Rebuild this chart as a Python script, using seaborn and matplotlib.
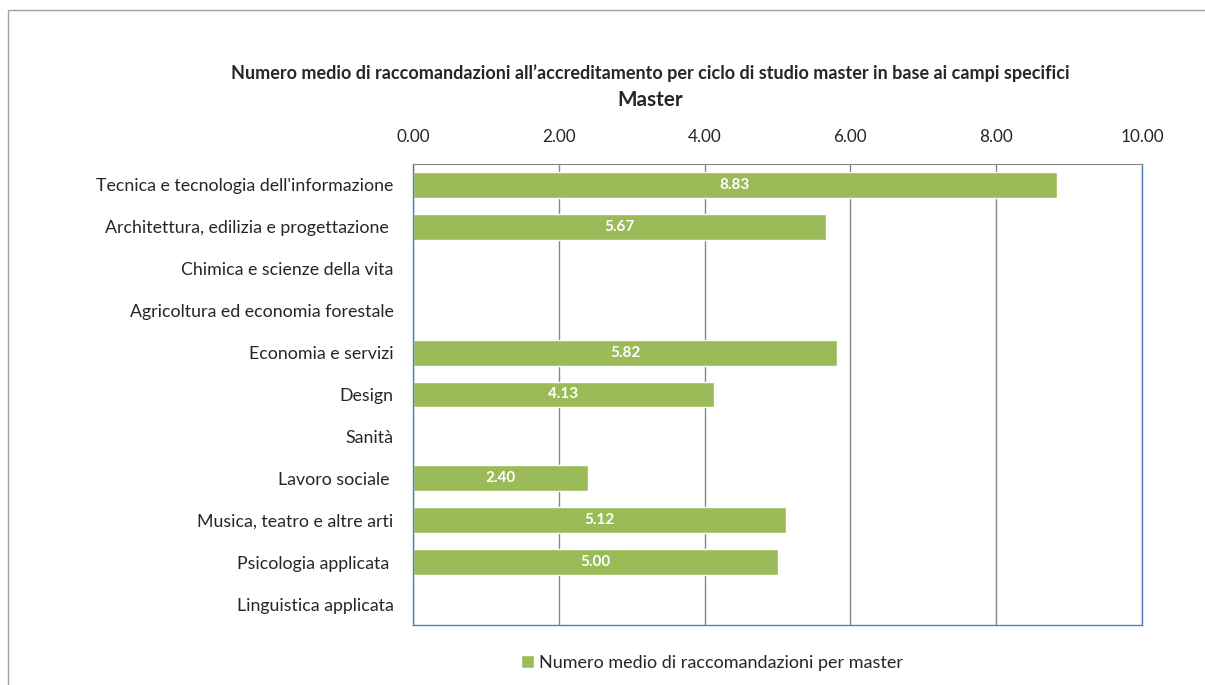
import numpy as np
import pandas as pd
import matplotlib
matplotlib.use("Agg")
import matplotlib.pyplot as plt
import seaborn as sns
from matplotlib.patches import Rectangle

# data (empty categories have no bar)
campi = ["Tecnica e tecnologia dell'informazione",
         "Architettura, edilizia e progettazione ",
         "Chimica e scienze della vita",
         "Agricoltura ed economia forestale",
         "Economia e servizi",
         "Design",
         "Sanità",
         "Lavoro sociale ",
         "Musica, teatro e altre arti",
         "Psicologia applicata ",
         "Linguistica applicata"]
valori = [8.83, 5.67, np.nan, np.nan, 5.82, 4.13, np.nan, 2.40, 5.12, 5.00, np.nan]
serie = "Numero medio di raccomandazioni per master"
xticks = [0, 2, 4, 6, 8, 10]

df = pd.DataFrame({"campo": campi, "valore": valori})

sns.set_style("white")
plt.rcParams['font.family'] = ['Lato', 'DejaVu Sans']

fig = plt.figure(figsize=(12.05, 6.85), dpi=100)
ax = fig.add_axes([413/1205, 1-625/685, (1142-413)/1205, (625-164)/685])

verde = "#9BBB59"
sns.barplot(data=df, x="valore", y="campo", color=verde, width=0.62,
            saturation=1, ax=ax, label=serie)

for i, v in enumerate(valori):
    if not np.isnan(v):
        ax.text(v/2, i, f"{v:.2f}", ha="center", va="center",
                color="white", fontsize=11, fontweight="bold")

ax.set_xlim(0, 10)
ax.set_ylim(len(campi)-0.5, -0.5)
ax.set_xticks(xticks)
ax.set_xticklabels([f"{t:.2f}" for t in xticks], fontsize=12.3)
ax.xaxis.tick_top()
ax.tick_params(axis="x", length=0, pad=14)
ax.tick_params(axis="y", length=0, pad=14, labelsize=12.8)
ax.set_xlabel("")
ax.set_ylabel("")
ax.grid(axis="x", color="#868686", linewidth=1)
ax.set_axisbelow(True)
for s in ["left", "bottom", "right"]:
    ax.spines[s].set_color("#4F81BD")
    ax.spines[s].set_linewidth(1)
ax.spines["top"].set_color("#868686")

fig.text(650/1205, 1-73/685, "Numero medio di raccomandazioni all\u2019accreditamento per ciclo di studio master in base ai campi specifici",
         ha="center", va="center", fontsize=13, fontweight="bold")
fig.text(650/1205, 1-100/685, "Master", ha="center", va="center",
         fontsize=14.9, fontweight="bold")

ax.legend(loc="center", bbox_to_anchor=(712/1205, 1-663/685),
          bbox_transform=fig.transFigure, frameon=False, fontsize=13,
          handlelength=0.7, handleheight=0.7, handletextpad=0.3)

# outer chart frame
fig.patches.append(Rectangle((8/1205, -0.1), 1.2, 1-10/685+0.1,
                             transform=fig.transFigure, fill=False,
                             edgecolor="#A0A0A0", linewidth=1))

fig.savefig("out.png", dpi=100)
